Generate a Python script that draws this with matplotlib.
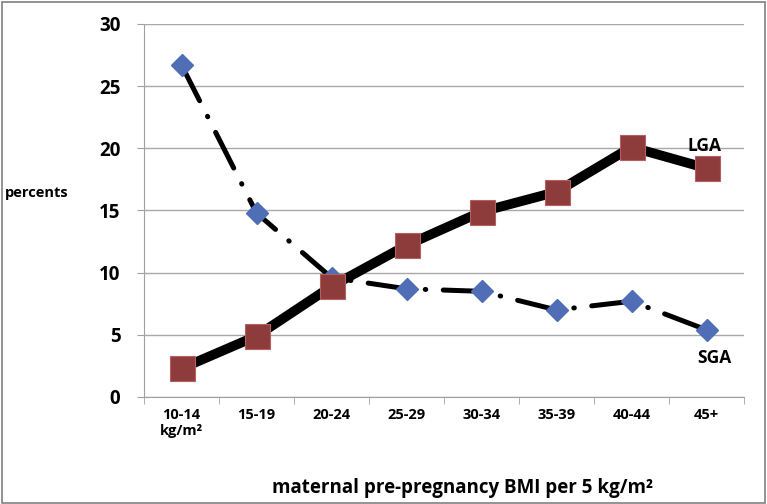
import numpy as np
import matplotlib.pyplot as plt
from matplotlib.patches import Rectangle

# Dados
categorias = ['10-14\nkg/m²', '15-19', '20-24', '25-29', '30-34', '35-39', '40-44', '45+']
sga = [26.7, 14.8, 9.6, 8.7, 8.5, 7.0, 7.7, 5.4]
lga = [2.3, 4.9, 8.9, 12.2, 14.9, 16.5, 20.1, 18.4]
yticks = [0, 5, 10, 15, 20, 25, 30]

plt.rcParams['font.family'] = ['Open Sans', 'DejaVu Sans']

fig = plt.figure(figsize=(7.67, 5.04), dpi=100)
ax = fig.add_axes([144 / 767, 107 / 504, 600 / 767, 373 / 504])

x = np.arange(len(categorias))

# SGA: traço-ponto com losangos
ax.plot(x, sga, color='black', lw=3.6, linestyle=(0, (8, 3.5, 0.1, 3.5)),
        dash_capstyle='round', zorder=3)
ax.plot(x, sga, linestyle='none', marker='D', ms=11, color='#4F6EB6',
        markeredgecolor='#4F6EB6', zorder=4)

# LGA: linha grossa com quadrados
ax.plot(x, lga, color='black', lw=7, solid_joinstyle='miter', zorder=3)
ax.plot(x, lga, linestyle='none', marker='s', ms=18, color='#8E3B3B',
        markeredgecolor='#B56060', markeredgewidth=0.8, zorder=5)

ax.text(6.75, 20.2, 'LGA', fontsize=12.5, fontweight='bold', ha='left', va='center')
ax.text(6.88, 3.1, 'SGA', fontsize=12.5, fontweight='bold', ha='left', va='center')

ax.set_xlim(-0.5, len(categorias) - 0.5)
ax.set_ylim(0, 30)
ax.set_yticks(yticks)
ax.set_yticklabels([str(t) for t in yticks], fontsize=13.5, fontweight='bold')
ax.set_xticks(x)
ax.set_xticklabels(categorias, fontsize=10.5, fontweight='bold', va='top')
ax.tick_params(axis='x', length=0, pad=8)
ax.set_xticks(np.arange(-0.5, len(categorias)), minor=True)
ax.tick_params(axis='x', which='minor', length=5, color='#A0A0A0', direction='out')
ax.tick_params(axis='y', length=5, color='#A0A0A0', pad=12)

ax.grid(axis='y', color='#A8A8A8', lw=1)
ax.set_axisbelow(True)
for s in ['top', 'right']:
    ax.spines[s].set_visible(False)
ax.spines['left'].set_color('#A0A0A0')
ax.spines['bottom'].set_color('#A0A0A0')

fig.text(5 / 767, 1 - 193 / 504, 'percents', fontsize=10.5, fontweight='bold', va='center')
fig.text(462 / 767, 1 - 488 / 504, 'maternal pre-pregnancy BMI per 5 kg/m²',
         fontsize=13.5, fontweight='bold', ha='center', va='center')

fig.patches.append(Rectangle((0.002, 0.002), 0.995, 0.995, transform=fig.transFigure,
                             fill=False, edgecolor='#808080', lw=1.2))

fig.savefig('out.png', dpi=100)
